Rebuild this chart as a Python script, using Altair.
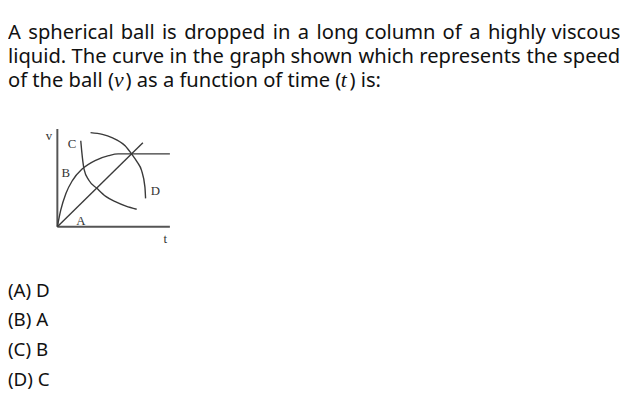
import altair as alt
import pandas as pd

# ---------------- text content ----------------
question_lines = [
    "A spherical ball is dropped in a long column of a highly viscous",
    "liquid. The curve in the graph shown which represents the speed",
]
question_line_y = [37, 61]          # baselines (reference px)
line3_parts = ["of the ball (", "v", ") as a function of time (", "t", ") is:"]
line3_is_math = [False, True, False, True, False]
line3_y = 85
options = ["(A) D", "(B) A", "(C) B", "(D) C"]
options_y = [298, 328, 358, 388]

# ---------------- diagram data (graph units) ----------------
A_t = [0, 7.6]
A_v = [0, 8.6]
B_t = [0, 0.3, 0.76, 1.35, 2.2, 3.4, 4.56, 5.4, 10]
B_v = [0, 1.7, 3.4, 4.75, 5.9, 6.8, 7.27, 7.45, 7.45]
C_t = [2.08, 2.16, 2.37, 2.8, 3.54, 4.3, 5.15, 6.1, 7.05]
C_v = [8.79, 7.78, 5.9, 4.75, 3.9, 3.1, 2.56, 2.1, 1.79]
D_t = [2.95, 4.0, 4.85, 6.02, 6.6, 7.1, 7.48, 7.78, 7.84]
D_v = [9.63, 9.45, 9.12, 8.28, 7.44, 6.6, 5.76, 4.07, 2.9]
labels = ["v", "C", "B", "D", "A", "t"]
labels_t = [-0.75, 1.3, 0.75, 8.7, 2.1, 9.6]
labels_v = [9.3, 8.5, 5.5, 3.7, 0.6, -1.3]

W, H = 620, 393
FS = 20.4
MATH_FS = 22

# approximate advance widths of Noto Sans (em units), used for justification
ADV = {" ": .26, "a": .556, "b": .613, "c": .476, "d": .613, "e": .561, "f": .339,
       "g": .548, "h": .614, "i": .253, "l": .253, "m": .93, "n": .614, "o": .604,
       "p": .613, "q": .613, "r": .408, "s": .477, "t": .353, "u": .614, "v": .501,
       "w": .778, "x": .524, "y": .502, "A": .633, "T": .55, ".": .266, "(": .291,
       ")": .291, ":": .266, "D": .735}
MATH_ADV = {"v": .48, "t": .36}


def width(s, size):
    return sum(ADV.get(ch, .55) for ch in s) * size


# justified words for lines 1-2
word_rows = []
for line, y in zip(question_lines, question_line_y):
    words = line.split(" ")
    total = sum(width(w, FS) for w in words)
    gap = (W - total) / (len(words) - 1)
    x = 0.0
    for w in words:
        word_rows.append({"text": w, "x": x, "y": y - 8})
        x += width(w, FS) + gap

# line 3 segments
plain_rows, math_rows = [], []
x = 0.0
for part, is_m in zip(line3_parts, line3_is_math):
    if is_m:
        math_rows.append({"text": part, "x": x + 1, "y": line3_y - 8})
        x += MATH_ADV[part] * MATH_FS + 2
    else:
        plain_rows.append({"text": part, "x": x, "y": line3_y - 8})
        x += width(part, FS)

px = alt.Scale(domain=[0, W], range=[0, W])
py = alt.Scale(domain=[0, H], range=[0, H])


def text_chart(rows, **kw):
    return alt.Chart(pd.DataFrame(rows)).mark_text(
        align="left", baseline="alphabetic", color="#111", **kw
    ).encode(
        x=alt.X("x:Q", scale=px, axis=None),
        y=alt.Y("y:Q", scale=py, axis=None),
        text="text:N",
    )


q = text_chart(word_rows, font="Noto Sans", fontSize=FS)
l3 = text_chart(plain_rows, font="Noto Sans", fontSize=FS)
m = text_chart(math_rows, font="Liberation Serif", fontStyle="italic", fontSize=MATH_FS)
o = text_chart([{"text": t, "x": 0, "y": y - 8} for t, y in zip(options, options_y)],
               font="Noto Sans", fontSize=19)

text_layer = alt.layer(q, l3, m, o)

# ---------------- diagram ----------------
gx = alt.Scale(domain=[0, 10], range=[50, 164])
gy = alt.Scale(domain=[0, 10], range=[219, 120])

rows = []
for name, ts, vs in [("A", A_t, A_v), ("B", B_t, B_v), ("C", C_t, C_v), ("D", D_t, D_v)]:
    for i, (t, v) in enumerate(zip(ts, vs)):
        rows.append({"curve": name, "t": t, "v": v, "i": i})
curves_df = pd.DataFrame(rows)

curves = alt.Chart(curves_df).mark_line(
    interpolate="monotone", color="#3a3a3a", strokeWidth=1.4
).encode(
    x=alt.X("t:Q", scale=gx, axis=None),
    y=alt.Y("v:Q", scale=gy, axis=None),
    detail="curve:N",
    order="i:Q",
)

axes_df = pd.DataFrame({"t": [0, 0], "v": [10, 0], "t2": [0, 10], "v2": [0, 0]})
axes = alt.Chart(axes_df).mark_rule(color="#555", strokeWidth=2).encode(
    x=alt.X("t:Q", scale=gx, axis=None),
    y=alt.Y("v:Q", scale=gy, axis=None),
    x2="t2:Q",
    y2="v2:Q",
)

lab_df = pd.DataFrame({"text": labels, "t": labels_t, "v": labels_v})
labs = alt.Chart(lab_df).mark_text(
    font="Liberation Serif", fontSize=13, color="#333", align="center", baseline="middle"
).encode(
    x=alt.X("t:Q", scale=gx, axis=None),
    y=alt.Y("v:Q", scale=gy, axis=None),
    text="text:N",
)

graph_layer = alt.layer(axes, curves, labs)

chart = alt.layer(text_layer, graph_layer).resolve_scale(
    x="independent", y="independent"
).properties(
    width=W, height=H, padding=0, autosize=alt.AutoSizeParams(type="none")
).configure_view(stroke=None)

chart.save("out.html", embed_options={"renderer": "svg", "actions": False})
